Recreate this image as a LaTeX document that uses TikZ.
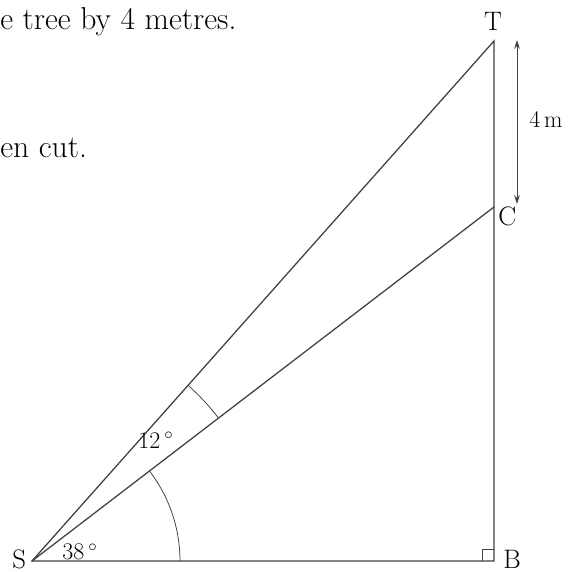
\documentclass[tikz,border=0pt]{standalone}
\usepackage{fontspec}
\usepackage{tikz}
\usetikzlibrary{arrows.meta}

\begin{document}
\begin{tikzpicture}[
  x=0.025cm, y=0.025cm,
  font=\fontsize{19}{22}\selectfont,
  side/.style={line width=0.9pt, black!75},
  arcmark/.style={line width=0.55pt, black!75},
  dim/.style={{Stealth[length=2.2mm,width=1.4mm]}-{Stealth[length=2.2mm,width=1.4mm]},
              line width=0.55pt, black!75},
  lbl/.style={inner sep=0pt},
  anglbl/.style={inner sep=0pt, font=\fontsize{17}{20}\selectfont},
  stem/.style={anchor=west, inner sep=0pt, font=\fontsize{22.5}{26}\selectfont}]
\useasboundingbox (0,0) rectangle (569,572);
\coordinate (S) at (32,11);
\coordinate (B) at (494,11);
\coordinate (C) at (494,365);
\coordinate (T) at (494,531);
\node[lbl, anchor=north] (lT) at (493,560) {T};
\node[lbl, anchor=north west] (lC) at (498,365) {C};
\node[lbl, anchor=south west] (lB) at (503,3) {B};
\node[lbl, anchor=south west] (lS) at (12,3) {S};
\draw[side] (S) -- (B) -- (T) -- cycle;
\draw[side] (S) -- (C);
\draw[arcmark] (B) ++(-12,0) -- ++(0,12) -- ++(12,0);
\draw[arcmark] (S) ++(148,0) arc[start angle=0, end angle=37.5, radius=148];
\draw[arcmark] (S) ++(37.5:235) arc[start angle=37.5, end angle=48.4, radius=235];
\node[anglbl] (a38) at (80,20) {38\,$^{\circ}$};
\node[anglbl] (a12) at (156,132) {12\,$^{\circ}$};
\coordinate (dtop) at (517,532);
\coordinate (dbot) at (517,368);
\draw[dim] (dtop) -- (dbot);
\node[inner sep=0pt, font=\fontsize{17}{20}\selectfont] (len) at (546,452) {4\,m};
\node[stem] (txt1) at (0,550) {e tree by 4 metres.};
\node[stem] (txt2) at (0,424) {en cut.};
\end{tikzpicture}
\end{document}
